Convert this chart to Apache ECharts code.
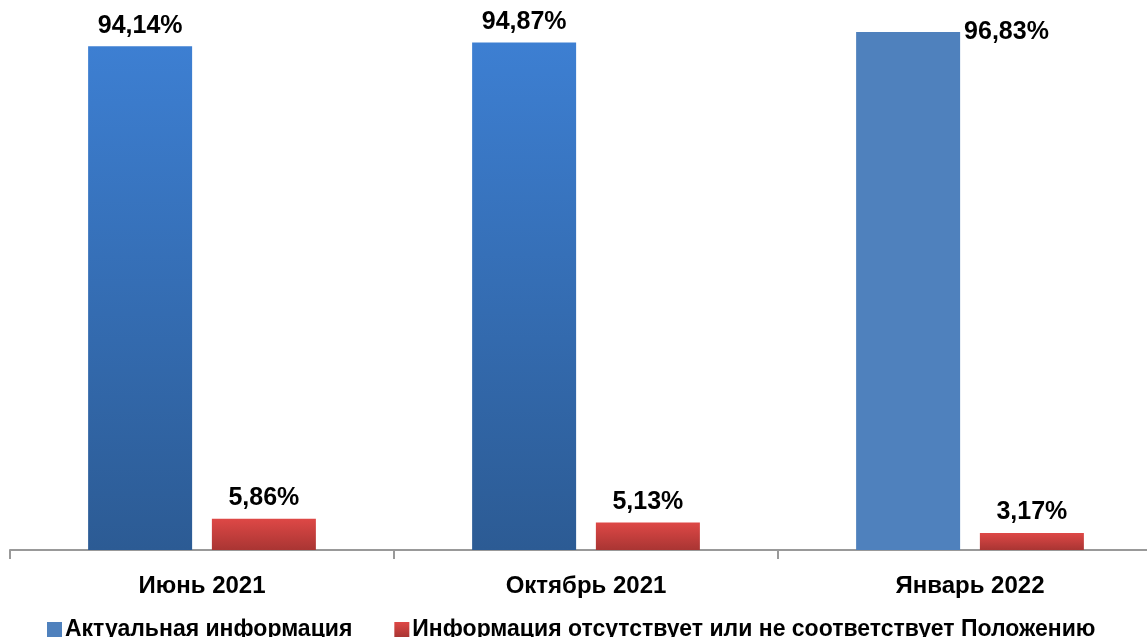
<!DOCTYPE html>
<html>
<head>
<meta charset="utf-8">
<script src="https://cdn.jsdelivr.net/npm/echarts@6/dist/echarts.min.js"></script>
<style>
  html, body { margin: 0; padding: 0; background: #fff; overflow: hidden; }
  /* график шире окна — правый край обрезан, как в оригинале */
  #chart { width: 1162px; height: 637px; }
</style>
</head>
<body>
<div id="chart"></div>
<script>
// данные
var categories = ["Июнь 2021", "Октябрь 2021", "Январь 2022"];
var actualValues = [94.14, 94.87, 96.83];
var missingValues = [5.86, 5.13, 3.17];
var seriesNames = ["Актуальная информация", "Информация отсутствует или не соответствует Положению"];

var FONT = "'Liberation Sans', Arial, sans-serif";

var blueGrad = new echarts.graphic.LinearGradient(0, 0, 0, 1, [
    { offset: 0, color: "#3d7fd2" },
    { offset: 1, color: "#2c5b94" }
]);
var redGrad = new echarts.graphic.LinearGradient(0, 0, 0, 1, [
    { offset: 0, color: "#de4846" },
    { offset: 1, color: "#a93533" }
]);

function fmt(v) {
    return v.toFixed(2).replace(".", ",") + "%";
}

var labelStyle = {
    show: true,
    position: "top",
    distance: 8,
    fontFamily: FONT,
    fontWeight: "bold",
    fontSize: 25,
    color: "#000",
    formatter: function (p) { return fmt(p.value); }
};

// третий синий столбец — без градиента, подпись справа
var actualData = actualValues.map(function (v, i) {
    if (i === 2) {
        return {
            value: v,
            itemStyle: { color: "#4f81bd" },
            label: { position: [108, 0], verticalAlign: "middle", align: "left" }
        };
    }
    return v;
});

var chart = echarts.init(document.getElementById("chart"));
chart.setOption({
    animation: false,
    textStyle: { fontFamily: FONT },
    grid: { left: 10, right: 0, top: 15, bottom: 87 },
    legend: {
        left: 42,
        top: 613,
        itemWidth: 15,
        itemHeight: 15,
        itemGap: 42,
        icon: "rect",
        textStyle: { fontFamily: FONT, fontWeight: "bold", fontSize: 23, color: "#000", padding: [0, 0, 0, -2] },
        data: [
            { name: seriesNames[0], itemStyle: { color: "#4f81bd" } },
            { name: seriesNames[1] }
        ]
    },
    xAxis: {
        type: "category",
        data: categories,
        axisLine: { lineStyle: { color: "#999", width: 2 } },
        axisTick: { show: true, length: 9, lineStyle: { color: "#999", width: 2 } },
        axisLabel: { fontFamily: FONT, fontWeight: "bold", fontSize: 24, color: "#000", margin: 24 }
    },
    yAxis: {
        type: "value",
        min: 0,
        max: 100,
        show: false,
        splitLine: { show: false }
    },
    series: [
        {
            name: seriesNames[0],
            type: "bar",
            barWidth: 104,
            barGap: "19%",
            itemStyle: { color: blueGrad },
            label: labelStyle,
            data: actualData
        },
        {
            name: seriesNames[1],
            type: "bar",
            barWidth: 104,
            itemStyle: { color: redGrad },
            label: labelStyle,
            data: missingValues
        }
    ]
});
</script>
</body>
</html>
